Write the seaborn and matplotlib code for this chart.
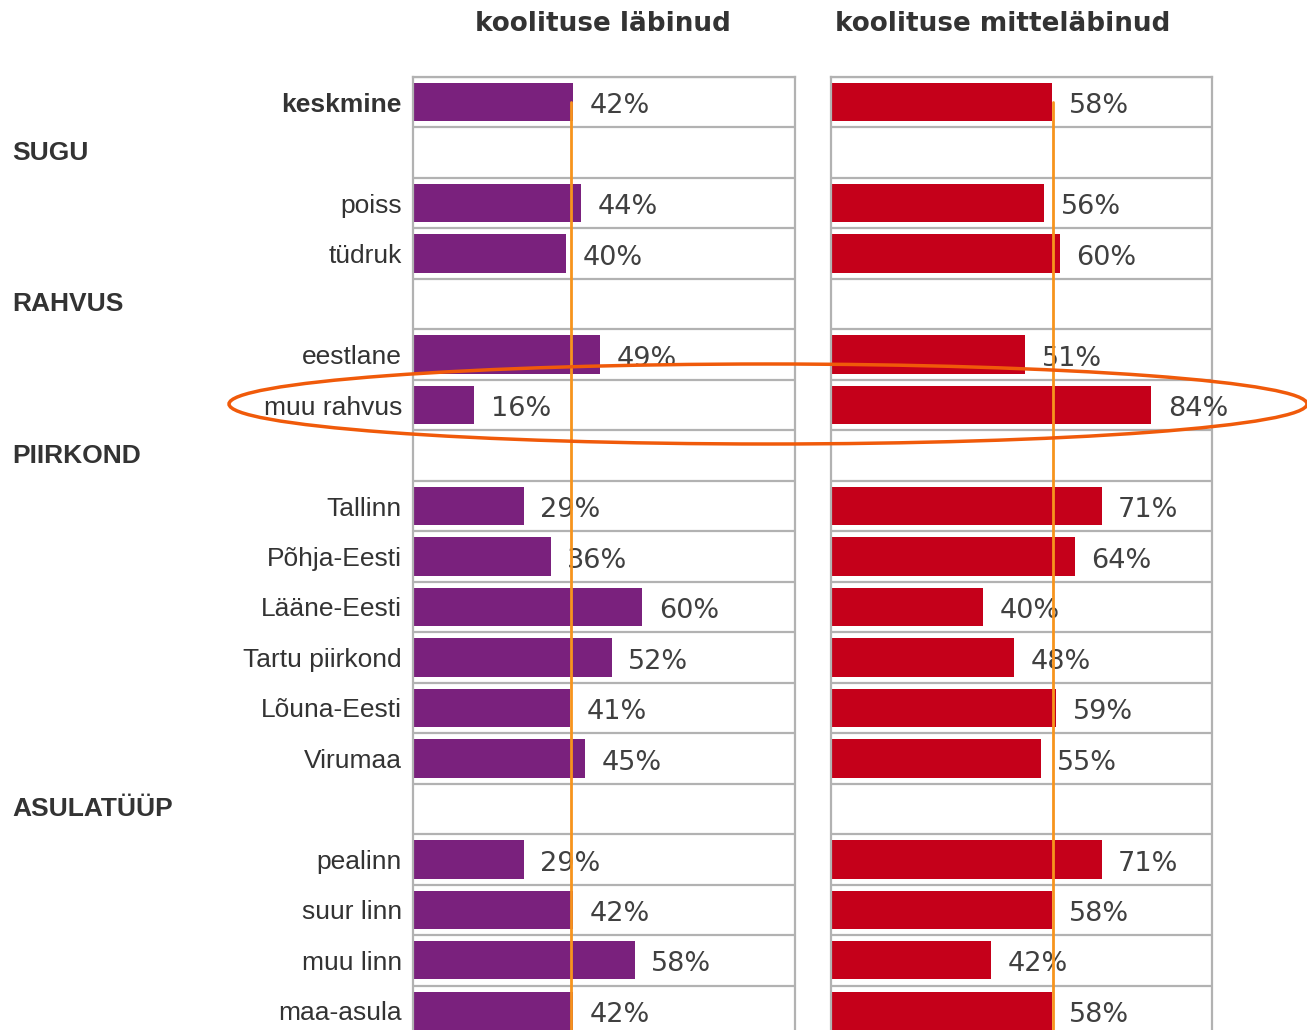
import numpy as np
import pandas as pd
import matplotlib
matplotlib.use("Agg")
import matplotlib.pyplot as plt
import matplotlib.patches as mpatches
import matplotlib.transforms as mtransforms
import seaborn as sns

rows = ["keskmine", "SUGU", "poiss", "tüdruk", "RAHVUS", "eestlane", "muu rahvus",
        "PIIRKOND", "Tallinn", "Põhja-Eesti", "Lääne-Eesti", "Tartu piirkond",
        "Lõuna-Eesti", "Virumaa", "ASULATÜÜP", "pealinn", "suur linn", "muu linn",
        "maa-asula"]
groups = ["SUGU", "RAHVUS", "PIIRKOND", "ASULATÜÜP"]
labinud = [42, np.nan, 44, 40, np.nan, 49, 16, np.nan, 29, 36, 60, 52, 41, 45,
           np.nan, 29, 42, 58, 42]
mittelabinud = [58, np.nan, 56, 60, np.nan, 51, 84, np.nan, 71, 64, 40, 48, 59, 55,
                np.nan, 71, 58, 42, 58]
keskmine_joon = [41.3, 58.3]
titles = ["koolituse läbinud", "koolituse mitteläbinud"]

purple = "#7A217D"
red = "#C5001A"
orange = "#F7941D"
grid_col = "#B2B2B2"
text_col = "#333333"

sns.set_style("white")
plt.rcParams["font.family"] = ["DejaVu Sans"]

df = pd.DataFrame({"rida": rows, "labinud": labinud, "mitte": mittelabinud})
n = len(rows)

W, H = 1307, 1030
fig = plt.figure(figsize=(W / 100, H / 100), dpi=100)

top_px, bot_px = 77, 1036
ax_l = fig.add_axes([413 / W, 1 - bot_px / H, 382 / W, (bot_px - top_px) / H])
ax_r = fig.add_axes([831 / W, 1 - bot_px / H, 381 / W, (bot_px - top_px) / H])

for ax, col, color, mean, title, cx in [
    (ax_l, "labinud", purple, keskmine_joon[0], titles[0], 603),
    (ax_r, "mitte", red, keskmine_joon[1], titles[1], 1003),
]:
    sns.barplot(data=df, y="rida", x=col, order=rows, color=color, width=0.76,
                saturation=1, linewidth=0, ax=ax, errorbar=None)
    ax.set_xlim(0, 100)
    ax.set_ylim(n - 0.5, -0.5)
    ax.set_xlabel("")
    ax.set_ylabel("")
    ax.set_xticks([])
    ax.set_yticks(np.arange(-0.5, n), minor=True)
    ax.grid(which="minor", axis="y", color=grid_col, lw=1.6)
    ax.grid(which="major", visible=False)
    ax.tick_params(which="both", length=0)
    for side in ["top", "left", "right"]:
        ax.spines[side].set_color(grid_col)
        ax.spines[side].set_linewidth(1.6)
    ax.spines["bottom"].set_visible(False)

    vals = df[col].values
    for i, v in enumerate(vals):
        if np.isnan(v):
            continue
        ax.annotate(f"{int(v)}%", (v, i), xytext=(12, -3), textcoords="offset points",
                    va="center", ha="left", fontsize=19.5, color="#404040", zorder=4)

    ax.plot([mean, mean], [0, n - 0.5], color=orange, lw=2, zorder=5)

    fig.text(cx / W, 1 - 24 / H, title, ha="center", va="center", fontsize=18.9,
             fontweight="bold", color=text_col)

# category labels on the left panel
ax_l.set_yticks(range(n))
ax_l.set_yticklabels(["" if r in groups else r for r in rows],
                     family=["Liberation Sans", "DejaVu Sans"], fontsize=19,
                     color=text_col)
ax_l.get_yticklabels()[0].set_fontweight("bold")
ax_l.tick_params(axis="y", which="major", pad=8)
ax_r.set_yticks(range(n))
ax_r.set_yticklabels([])

trans = mtransforms.blended_transform_factory(fig.transFigure, ax_l.transData)
for g in groups:
    fig.text(12 / W, rows.index(g), g, transform=trans, ha="left", va="center",
             fontsize=19, fontweight="bold", color=text_col,
             family=["Liberation Sans", "DejaVu Sans"])

ring = mpatches.Ellipse((768 / W, 1 - 404 / H), 1078 / W, 80 / H,
                        transform=fig.transFigure, fill=False, ec="#F05A0A", lw=2.5,
                        zorder=10)
fig.add_artist(ring)

fig.savefig("out.png", dpi=100)
